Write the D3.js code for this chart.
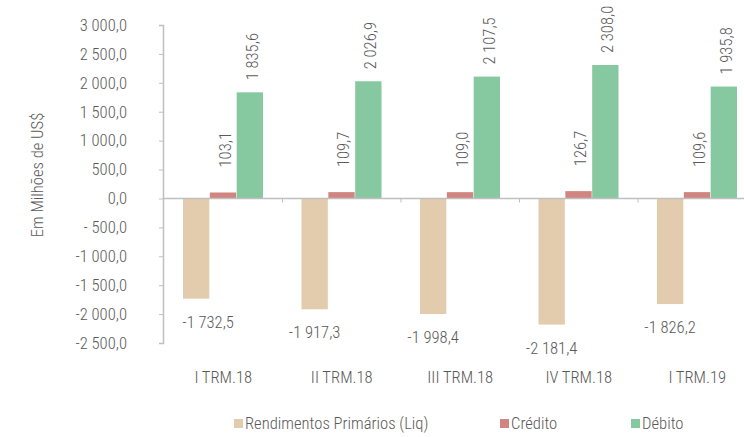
<!DOCTYPE html>
<html>
<head>
<meta charset="utf-8">
<script src="https://cdn.jsdelivr.net/npm/d3@7"></script>
<style>
  body { margin: 0; background: #fff; }
  text { font-family: "Liberation Sans Narrow", "Roboto Condensed", "Arial Narrow", sans-serif; fill: #595959; font-weight: 300; }
</style>
</head>
<body>
<svg width="744" height="437"></svg>
<script>
var categories = ["I TRM.18", "II TRM.18", "III TRM.18", "IV TRM.18", "I TRM.19"];
var seriesNames = ["Rendimentos Primários (Liq)", "Crédito", "Débito"];
var rendimentos = [-1732.5, -1917.3, -1998.4, -2181.4, -1826.2];
var credito = [103.1, 109.7, 109.0, 126.7, 109.6];
var debito = [1835.6, 2026.9, 2107.5, 2308.0, 1935.8];
var yTicks = [3000, 2500, 2000, 1500, 1000, 500, 0, -500, -1000, -1500, -2000, -2500];
var colors = ["#e3cbad", "#d08581", "#86c8a0"];

var fmt = function (v) {
    return d3.format(",.1f")(v).replace(/,/g, " ").replace(".", ",").replace("\u2212", "-");
};
var tickFmt = function (v) {
    var s = fmt(v);
    if (v === -500) s = "- 500,0";
    return s;
};

var rows = categories.map(function (c, i) {
    return { cat: c, vals: [rendimentos[i], credito[i], debito[i]] };
});

var svg = d3.select("svg");
var axisX = 163;
var fs = "16.6px";

var y = d3.scaleLinear().domain([-2500, 3000]).range([343, 25]);
var x0 = d3.scaleBand().domain(categories).range([164, 756.5]);
var x1 = d3.scaleBand().domain(seriesNames).range([19, 99]).paddingInner(0.02);

// y axis
var yAxis = svg.append("g")
    .attr("transform", "translate(" + axisX + ",0)")
    .call(d3.axisLeft(y).tickValues(yTicks).tickFormat(tickFmt).tickSize(4).tickPadding(32));
yAxis.select(".domain").attr("stroke", "#bfbfbf").attr("stroke-width", 1.5);
yAxis.selectAll(".tick line").attr("stroke", "#bfbfbf");
yAxis.selectAll(".tick text").attr("font-size", fs).attr("fill", "#595959")
    .style("font-family", "'Liberation Sans Narrow', 'Roboto Condensed', sans-serif");

// bars
var groups = svg.append("g").selectAll("g")
    .data(rows)
    .enter().append("g")
    .attr("transform", function (d) { return "translate(" + x0(d.cat) + ",0)"; });

groups.selectAll("rect")
    .data(function (d) { return d.vals.map(function (v, k) { return { k: k, v: v }; }); })
    .enter().append("rect")
    .attr("x", function (d) { return x1(seriesNames[d.k]); })
    .attr("width", x1.bandwidth())
    .attr("y", function (d) { return y(Math.max(0, d.v)); })
    .attr("height", function (d) { return Math.abs(y(d.v) - y(0)); })
    .attr("fill", function (d) { return colors[d.k]; });

// zero line + category ticks
svg.append("line")
    .attr("x1", axisX).attr("x2", 744)
    .attr("y1", y(0)).attr("y2", y(0))
    .attr("stroke", "#bfbfbf").attr("stroke-width", 1.5);
svg.append("g").selectAll("line")
    .data(categories.slice(1))
    .enter().append("line")
    .attr("x1", function (d) { return x0(d); })
    .attr("x2", function (d) { return x0(d); })
    .attr("y1", y(0)).attr("y2", y(0) + 4)
    .attr("stroke", "#bfbfbf");

// negative labels
groups.append("text")
    .attr("x", function (d, i) { return x1(seriesNames[0]) + x1.bandwidth() / 2 + (i === 0 ? 12 : 0); })
    .attr("y", function (d) { return y(d.vals[0]) + 29; })
    .attr("text-anchor", "middle")
    .attr("font-size", fs)
    .text(function (d) { return fmt(d.vals[0]); });

// rotated labels for credito / debito
[1, 2].forEach(function (k) {
    var off = k === 1 ? 25 : 12;
    groups.append("text")
        .attr("transform", function (d) {
            var cx = x1(seriesNames[k]) + x1.bandwidth() / 2 + 2;
            return "translate(" + cx + "," + (y(d.vals[k]) - off) + ") rotate(-90)";
        })
        .attr("dy", "0.35em")
        .attr("text-anchor", "start")
        .attr("font-size", fs)
        .text(function (d) { return fmt(d.vals[k]); });
});

// category labels
svg.append("g").selectAll("text")
    .data(categories)
    .enter().append("text")
    .attr("x", function (d) { return x0(d) + x0.bandwidth() / 2; })
    .attr("y", 383)
    .attr("text-anchor", "middle")
    .attr("font-size", fs)
    .text(function (d) { return d; });

// y title
svg.append("text")
    .attr("transform", "translate(43,175) rotate(-90)")
    .attr("text-anchor", "middle")
    .attr("font-size", fs)
    .text("Em Milhões de US$");

// legend
var legendX = [234, 500, 631];
var legend = svg.append("g").selectAll("g")
    .data(seriesNames)
    .enter().append("g")
    .attr("transform", function (d, i) { return "translate(" + legendX[i] + ",419)"; });
legend.append("rect").attr("width", 9).attr("height", 9)
    .attr("fill", function (d, i) { return colors[i]; });
legend.append("text")
    .attr("x", 11).attr("y", 10)
    .attr("font-size", fs)
    .text(function (d) { return d; });
</script>
</body>
</html>
